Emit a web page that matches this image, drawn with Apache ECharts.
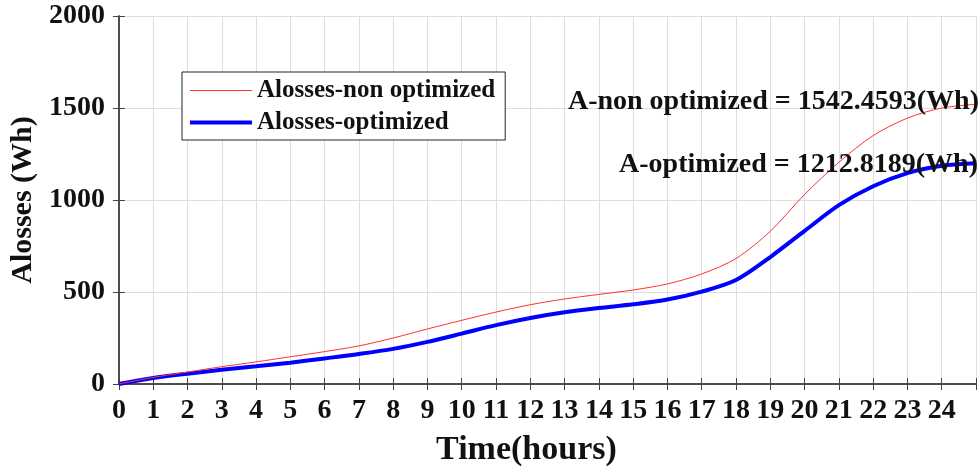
<!DOCTYPE html>
<html>
<head>
<meta charset="utf-8">
<script src="https://cdn.jsdelivr.net/npm/echarts@6/dist/echarts.min.js"></script>
<style>
  html, body { margin: 0; padding: 0; background: #fff; }
  #chart { width: 979px; height: 472px; }
</style>
</head>
<body>
<div id="chart"></div>
<script>
  // hours 0..25
  let hours = [0, 1, 2, 3, 4, 5, 6, 7, 8, 9, 10, 11, 12, 13, 14, 15, 16, 17, 18, 19, 20, 21, 22, 23, 24, 25]
  let lossNonOpt = [0, 36, 65, 94, 120, 148, 176, 207, 250, 299, 346, 391, 431, 462, 487, 511, 544, 598, 682, 830, 1030, 1205, 1350, 1445, 1500, 1520]
  let lossOpt = [0, 33, 56, 77, 96, 116, 139, 163, 191, 229, 274, 320, 359, 390, 413, 433, 459, 502, 565, 690, 832, 972, 1075, 1146, 1186, 1200]
  let xTickLabels = ['0', '1', '2', '3', '4', '5', '6', '7', '8', '9', '10', '11', '12', '13', '14', '15', '16', '17', '18', '19', '20', '21', '22', '23', '24']
  let yTicks = [0, 500, 1000, 1500, 2000]
  let notes = ['A-non optimized = 1542.4593(Wh)', 'A-optimized = 1212.8189(Wh)']

  let serif = '"Liberation Serif", "DejaVu Serif", serif'
  let axisCol = '#444'
  let gridCol = '#dedede'

  let myChart = echarts.init(document.getElementById('chart'))

  let pair = arr => hours.map((h, i) => [h, arr[i]])

  myChart.setOption({
    animation: false,
    grid: {
      left: 116,
      top: 16,
      right: -4,
      bottom: 85
    },
    legend: {
      orient: 'vertical',
      left: 182,
      top: 72,
      padding: [6, 10, 5, 6],
      itemGap: 7,
      itemWidth: 62,
      itemHeight: 14,
      backgroundColor: '#fff',
      borderColor: '#222',
      borderWidth: 1,
      itemStyle: {opacity: 0},
      textStyle: {
        fontFamily: serif,
        fontWeight: 'bold',
        fontSize: 25,
        color: '#111'
      },
      data: [
        {name: 'Alosses-non optimized', lineStyle: {width: 1}},
        {name: 'Alosses-optimized', lineStyle: {width: 4}}
      ]
    },
    xAxis: [
      {
        type: 'value',
        min: 0,
        max: 25,
        interval: 1,
        name: 'Time(hours)',
        nameLocation: 'middle',
        nameGap: 49,
        nameTextStyle: {fontFamily: serif, fontWeight: 'bold', fontSize: 34, color: '#111', padding: [0, 42, 0, 0]},
        axisLine: {lineStyle: {color: axisCol, width: 1.5}},
        axisTick: {inside: true, length: 6, lineStyle: {color: axisCol}},
        axisLabel: {
          fontFamily: serif, fontWeight: 'bold', fontSize: 28, color: '#111', margin: 13,
          formatter: v => xTickLabels[v] !== undefined ? xTickLabels[v] : ''
        },
        splitLine: {show: true, lineStyle: {color: gridCol}}
      },
      {
        type: 'value',
        position: 'top',
        min: 0,
        max: 25,
        interval: 1,
        axisLine: {lineStyle: {color: axisCol, width: 1.5}},
        axisTick: {inside: true, length: 6, lineStyle: {color: axisCol}},
        axisLabel: {show: false},
        splitLine: {show: false}
      }
    ],
    yAxis: [
      {
        type: 'value',
        min: yTicks[0],
        max: yTicks[yTicks.length - 1],
        interval: 500,
        name: 'Alosses (Wh)',
        nameLocation: 'middle',
        nameGap: 80,
        nameTextStyle: {fontFamily: serif, fontWeight: 'bold', fontSize: 30, color: '#111'},
        axisLine: {show: true, lineStyle: {color: axisCol, width: 1.5}},
        axisTick: {show: true, inside: true, length: 6, lineStyle: {color: axisCol}},
        axisLabel: {
          fontFamily: serif, fontWeight: 'bold', fontSize: 28, color: '#111', margin: 14,
          formatter: v => String(v)
        },
        splitLine: {show: true, lineStyle: {color: gridCol}}
      },
      {
        type: 'value',
        position: 'right',
        min: yTicks[0],
        max: yTicks[yTicks.length - 1],
        interval: 500,
        axisLine: {show: true, lineStyle: {color: axisCol, width: 1.5}},
        axisTick: {show: true, inside: true, length: 6, lineStyle: {color: axisCol}},
        axisLabel: {show: false},
        splitLine: {show: false}
      }
    ],
    series: [
      {
        name: 'Alosses-non optimized',
        type: 'line',
        data: pair(lossNonOpt),
        smooth: 0.3,
        symbol: 'none',
        lineStyle: {color: '#ff3030', width: 1},
        itemStyle: {color: '#ff3030'},
        z: 3
      },
      {
        name: 'Alosses-optimized',
        type: 'line',
        data: pair(lossOpt),
        smooth: 0.3,
        symbol: 'none',
        lineStyle: {color: '#0000ff', width: 4},
        itemStyle: {color: '#0000ff'},
        z: 2
      }
    ],
    graphic: [
      {
        type: 'text',
        right: 0,
        top: 88,
        z: 100,
        style: {text: notes[0], fontFamily: serif, fontWeight: 'bold', fontSize: 28, fill: '#111'}
      },
      {
        type: 'text',
        right: 1,
        top: 151,
        z: 100,
        style: {text: notes[1], fontFamily: serif, fontWeight: 'bold', fontSize: 28, fill: '#111'}
      }
    ]
  })
</script>
</body>
</html>
